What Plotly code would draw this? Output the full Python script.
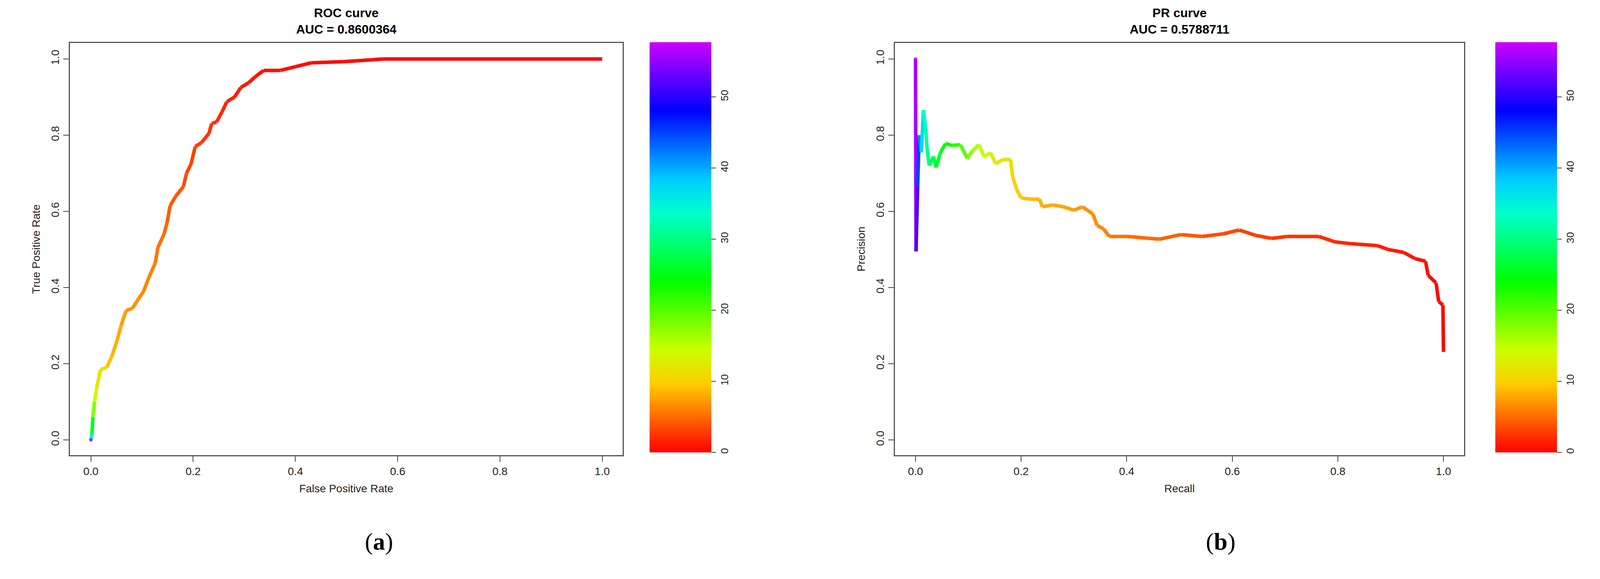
import plotly.graph_objects as go
from plotly.colors import sample_colorscale
import colorsys

roc_fpr = [0,0.002,0.004,0.007,0.011,0.019,0.031,0.041,0.051,0.059,0.069,0.081,0.093,0.103,0.113,0.126,0.131,0.143,0.149,0.155,0.166,0.181,0.187,0.196,0.204,0.216,0.231,0.236,0.246,0.256,0.266,0.281,0.293,0.309,0.321,0.338,0.371,0.401,0.431,0.495,0.55,0.57,1.0]
roc_tpr = [0,0.015,0.06,0.10,0.135,0.185,0.19,0.22,0.26,0.30,0.34,0.345,0.37,0.39,0.425,0.465,0.505,0.54,0.57,0.615,0.64,0.665,0.70,0.725,0.77,0.78,0.805,0.83,0.835,0.86,0.888,0.90,0.925,0.938,0.953,0.97,0.97,0.98,0.99,0.993,0.998,1.0,1.0]
roc_cut = [57,35,25,18,14,12,11,9,8.5,8,7.5,7,6.8,6.5,6.2,6,5.6,5.2,4.9,4.5,4.2,3.9,3.6,3.3,3.0,2.8,2.6,2.4,2.2,2.0,1.8,1.6,1.4,1.2,1.0,0.9,0.8,0.7,0.6,0.5,0.4,0.3,0]

pr_rec = [0,0.001,0.004,0.007,0.011,0.015,0.019,0.022,0.026,0.034,0.039,0.047,0.057,0.069,0.085,0.098,0.108,0.12,0.13,0.142,0.152,0.165,0.18,0.184,0.192,0.2,0.22,0.235,0.24,0.26,0.28,0.3,0.316,0.336,0.344,0.356,0.367,0.402,0.462,0.503,0.543,0.583,0.613,0.644,0.674,0.704,0.764,0.794,0.825,0.875,0.895,0.925,0.946,0.966,0.971,0.986,0.991,0.999,1.0]
pr_prec = [1.0,0.495,0.666,0.80,0.755,0.866,0.822,0.764,0.72,0.744,0.715,0.754,0.778,0.773,0.775,0.739,0.759,0.775,0.744,0.754,0.725,0.736,0.736,0.69,0.656,0.635,0.632,0.632,0.612,0.617,0.612,0.603,0.612,0.593,0.563,0.554,0.534,0.534,0.527,0.539,0.534,0.541,0.551,0.537,0.529,0.534,0.534,0.52,0.515,0.51,0.5,0.492,0.476,0.469,0.432,0.412,0.363,0.354,0.231]
pr_cut = [57,56,52,45,42,37,34,32,30,28,27,26,25,24,22,20,18,16,15,14,13,12,11.5,11,10,9.5,9,8.7,8.4,8.1,7.8,7.5,7.2,6.9,6.6,6.3,6,5.5,5,4.5,4,3.7,3.4,3.1,2.8,2.6,2.3,2.0,1.8,1.6,1.4,1.2,1.0,0.8,0.6,0.5,0.4,0.2,0]

CMAX = 57.7
n = 12
rainbow = []
for i in range(n + 1):
    h = 0.8 * i / n
    r, g, b = colorsys.hsv_to_rgb(h, 1, 1)
    rainbow.append([i / n, f"rgb({int(r*255)},{int(g*255)},{int(b*255)})"])

FONT = "Liberation Sans"
fig = go.Figure()

def add_curve(xs, ys, cs, xa, ya, cbx):
    cols = sample_colorscale(rainbow, [min(c / CMAX, 1) for c in cs])
    for i in range(len(xs) - 1):
        fig.add_trace(go.Scatter(x=[xs[i], xs[i+1]], y=[ys[i], ys[i+1]], mode="lines",
                                 line=dict(color=cols[i+1], width=9), xaxis=xa, yaxis=ya,
                                 showlegend=False, hoverinfo="skip"))
    fig.add_trace(go.Scatter(x=[xs[0]], y=[ys[0]], mode="markers", xaxis=xa, yaxis=ya, showlegend=False,
                             marker=dict(size=8, color=[cs[0]], colorscale=rainbow, cmin=0, cmax=CMAX,
                                         showscale=True,
                                         colorbar=dict(x=cbx, xanchor="left", xpad=0, ypad=0,
                                                       y=1 - 1150/1482, yanchor="bottom",
                                                       lenmode="pixels", len=1050, thicknessmode="pixels", thickness=158,
                                                       outlinewidth=0, ticks="outside", ticklen=12, tickwidth=2,
                                                       tickvals=[0,10,20,30,40,50], tickangle=-90,
                                                       tickfont=dict(family=FONT, size=26, color="#222")))))

add_curve(roc_fpr, roc_tpr, roc_cut, "x", "y", 1655/4125)
add_curve(pr_rec, pr_prec, pr_cut, "x2", "y2", 3820/4125)

ax = dict(showline=True, mirror=True, linecolor="#555", linewidth=3, ticks="outside", ticklen=14, tickwidth=2,
          showgrid=False, zeroline=False, tickfont=dict(family=FONT, size=28, color="#222"),
          tickvals=[0,0.2,0.4,0.6,0.8,1.0], ticktext=["0.0","0.2","0.4","0.6","0.8","1.0"],
          title_font=dict(family=FONT, size=28, color="#222"))
fig.update_layout(
    width=4125, height=1482, margin=dict(l=0, r=0, t=0, b=0),
    paper_bgcolor="white", plot_bgcolor="white",
    xaxis=dict(ax, domain=[171/4125, 1586/4125], range=[-0.041, 1.04], anchor="y",
               title=dict(text="False Positive Rate", standoff=20)),
    yaxis=dict(ax, domain=[1-1157/1482, 1-102/1482], range=[-0.04, 1.042], anchor="x", tickangle=-90,
               title=dict(text="True Positive Rate", standoff=15)),
    xaxis2=dict(ax, domain=[2283/4125, 3740/4125], range=[-0.039, 1.039], anchor="y2",
                title=dict(text="Recall", standoff=20)),
    yaxis2=dict(ax, domain=[1-1157/1482, 1-102/1482], range=[-0.04, 1.042], anchor="x2", tickangle=-90,
                title=dict(text="Precision", standoff=15)),
)
def title(x, text):
    fig.add_annotation(x=x, y=1-46/1482, xref="paper", yref="paper", text=text, showarrow=False,
                       font=dict(family=FONT, size=32, color="black"), xanchor="center", yanchor="middle")
title((171+1586)/2/4125, "<b>ROC curve<br>AUC = 0.8600364</b>")
title((2283+3740)/2/4125, "<b>PR curve<br>AUC = 0.5788711</b>")
for x, t in [(962/4125, "(<b>a</b>)"), (3117/4125, "(<b>b</b>)")]:
    fig.add_annotation(x=x, y=1-1415/1482, xref="paper", yref="paper", text=t, showarrow=False,
                       xanchor="center", font=dict(family="Liberation Serif", size=62, color="black"))
fig.write_html("out.html")
